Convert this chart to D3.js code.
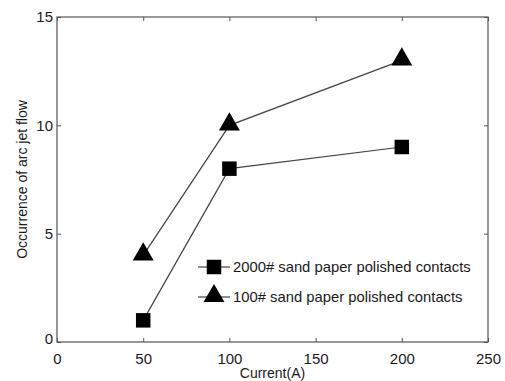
<!DOCTYPE html>
<html>
<head>
<meta charset="utf-8">
<script src="https://cdn.jsdelivr.net/npm/d3@7"></script>
<style>
  body { margin: 0; background: white; }
  text { font-family: "Liberation Sans", Arial, sans-serif; fill: #1a1a1a; }
</style>
</head>
<body>
<div id="vis"></div>
<script>
// data
let currents = [50, 100, 200];
let fine = [1, 8, 9];      // 2000# sand paper
let coarse = [4, 10, 13];  // 100# sand paper
let seriesNames = ['2000# sand paper polished contacts', '100# sand paper polished contacts'];
let xTicks = [0, 50, 100, 150, 200, 250];
let yTicks = [0, 5, 10, 15];

let W = 505, H = 381;
let margin = { top: 17, left: 57, right: 17, bottom: 39 },
  width = W - margin.left - margin.right,
  height = H - margin.top - margin.bottom;

let svg = d3.select('#vis')
  .append('svg')
  .attr('width', W)
  .attr('height', H);

let g = svg.append('g').attr('transform', `translate(${margin.left},${margin.top})`);

let x = d3.scaleLinear().domain([0, 250]).range([0, width]);
let y = d3.scaleLinear().domain([0, 15]).range([height, 0]);

// box with inward ticks, matlab style
let axisColor = '#555';
g.append('rect')
  .attr('width', width).attr('height', height)
  .attr('fill', 'none').attr('stroke', axisColor).attr('stroke-width', 1.2);

let xAxis = g.append('g').attr('transform', `translate(0,${height})`)
  .call(d3.axisBottom(x).tickValues(xTicks).tickSizeInner(-4).tickSizeOuter(0).tickPadding(11));
let xTop = g.append('g')
  .call(d3.axisTop(x).tickValues(xTicks).tickSizeInner(-4).tickSizeOuter(0).tickFormat(''));
let yAxis = g.append('g')
  .call(d3.axisLeft(y).tickValues(yTicks).tickSizeInner(-4).tickSizeOuter(0).tickPadding(4));
let yRight = g.append('g').attr('transform', `translate(${width},0)`)
  .call(d3.axisRight(y).tickValues(yTicks).tickSizeInner(-4).tickSizeOuter(0).tickFormat(''));

[xAxis, xTop, yAxis, yRight].forEach(a => {
  a.select('.domain').remove();
  a.selectAll('line').attr('stroke', axisColor);
  a.selectAll('text').style('font-size', '15px').attr('fill', '#1a1a1a');
});
// matlab puts the zero a little lower
yAxis.selectAll('.tick').filter(d => d === 0).select('text').attr('dy', '0.1em');

// axis titles
svg.append('text')
  .attr('x', margin.left + x(125)).attr('y', 378)
  .attr('text-anchor', 'middle')
  .style('font-size', '14px')
  .text('Current(A)');

svg.append('text')
  .attr('transform', `translate(27,${margin.top + height / 2}) rotate(-90)`)
  .attr('text-anchor', 'middle')
  .style('font-size', '14px')
  .text('Occurrence of arc jet flow');

// lines
let line = d3.line().x((d, i) => x(currents[i])).y(d => y(d));
let lineColor = '#444';

g.append('path').datum(fine).attr('d', line)
  .attr('fill', 'none').attr('stroke', lineColor).attr('stroke-width', 1.2);
g.append('path').datum(coarse).attr('d', line)
  .attr('fill', 'none').attr('stroke', lineColor).attr('stroke-width', 1.2);

let square = d3.symbol().type(d3.symbolSquare).size(210);
let triangle = d3.symbol().type(d3.symbolTriangle).size(190);

g.selectAll('.sq').data(fine).join('path')
  .attr('class', 'sq')
  .attr('d', square)
  .attr('transform', (d, i) => `translate(${x(currents[i])},${y(d)})`)
  .attr('fill', 'black');

g.selectAll('.tri').data(coarse).join('path')
  .attr('class', 'tri')
  .attr('d', triangle)
  .attr('transform', (d, i) => `translate(${x(currents[i])},${y(d) - 1})`)
  .attr('fill', 'black');

// legend (no box)
let legend = svg.append('g').attr('transform', 'translate(198,267)');
let shapes = [square, triangle];
seriesNames.forEach((name, i) => {
  let row = legend.append('g').attr('transform', `translate(0,${i * 30})`);
  row.append('line').attr('x1', 0).attr('x2', 32).attr('y1', 0).attr('y2', 0)
    .attr('stroke', lineColor).attr('stroke-width', 1.2);
  row.append('path').attr('d', shapes[i]).attr('transform', `translate(16,${i === 1 ? -1 : 0})`).attr('fill', 'black');
  row.append('text').attr('x', 35).attr('y', 0).attr('dy', '0.35em')
    .style('font-size', '14.8px')
    .text(name);
});
</script>
</body>
</html>
